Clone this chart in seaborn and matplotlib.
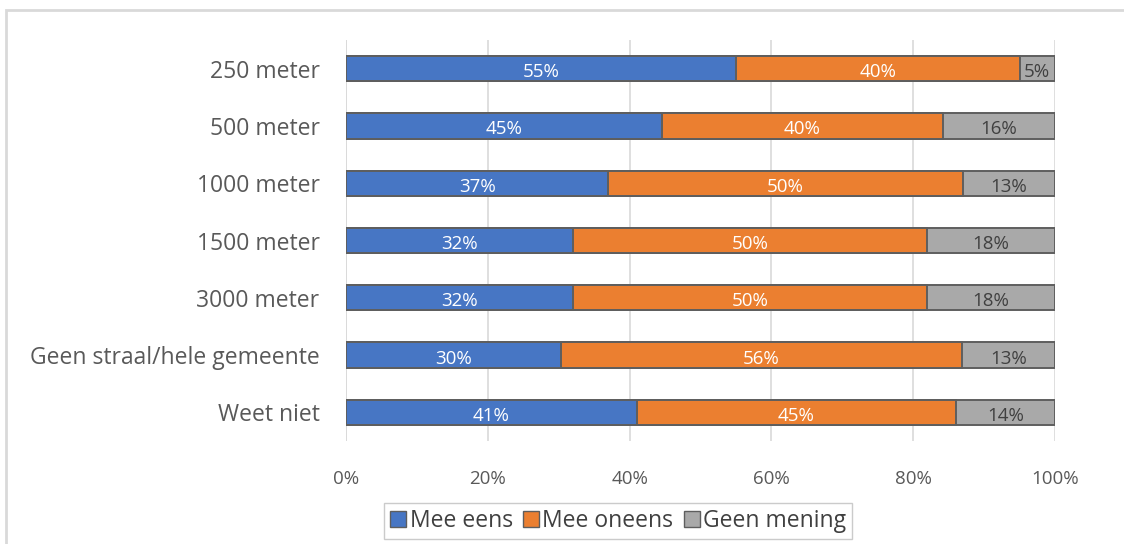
import matplotlib
matplotlib.use("Agg")
import matplotlib.pyplot as plt
import matplotlib.patches as mpatches
import numpy as np
import pandas as pd
import seaborn as sns

# data (percentages as printed in the bars)
categories = ["250 meter", "500 meter", "1000 meter", "1500 meter",
              "3000 meter", "Geen straal/hele gemeente", "Weet niet"]
mee_eens = [55, 45, 37, 32, 32, 30, 41]
mee_oneens = [40, 40, 50, 50, 50, 56, 45]
geen_mening = [5, 16, 13, 18, 18, 13, 14]
series_names = ["Mee eens", "Mee oneens", "Geen mening"]
x_ticks = [0, 20, 40, 60, 80, 100]

colors = ["#4776C4", "#EB7F30", "#A9A9A9"]
edge = "#5E5E5E"

sns.set_style("white")
plt.rcParams["font.family"] = ["Open Sans", "DejaVu Sans"]

df = pd.DataFrame({"cat": categories, "a": mee_eens, "b": mee_oneens, "c": geen_mening})
tot = df[["a", "b", "c"]].sum(axis=1)
# 100% stacked: normalise each row like Excel does
df["s1"] = df["a"] / tot * 100
df["s2"] = (df["a"] + df["b"]) / tot * 100
df["s3"] = 100.0

fig = plt.figure(figsize=(11.24, 5.44), dpi=100)
ax = fig.add_axes([0.3078, 0.1893, 0.6308, 0.7371])

# outer chart frame
fig.patches.append(mpatches.Rectangle((6 / 1124, -0.05), 1.1, 1 - 10 / 544 + 0.05,
                                      transform=fig.transFigure, fill=False,
                                      edgecolor="#D9D9D9", linewidth=2))

for col, c in zip(["s3", "s2", "s1"], colors[::-1]):
    sns.barplot(data=df, x=col, y="cat", color=c, orient="h", width=0.44,
                edgecolor=edge, linewidth=1.4, saturation=1, ax=ax)

# labels in the middle of each segment
for i, row in df.iterrows():
    starts = [0, row["s1"], row["s2"]]
    ends = [row["s1"], row["s2"], row["s3"]]
    vals = [row["a"], row["b"], row["c"]]
    for k in range(3):
        tc = "white" if k < 2 else "#404040"
        ax.text((starts[k] + ends[k]) / 2, i + 0.06, f"{vals[k]}%", ha="center", va="center",
                fontsize=13.5, color=tc)

ax.set_xlim(0, 100)
ax.set_ylim(len(categories) - 0.5, -0.5)
ax.set_xticks(x_ticks)
ax.set_xticklabels([f"{t}%" for t in x_ticks])
ax.set_xlabel("")
ax.set_ylabel("")
ax.grid(axis="x", color="#D9D9D9", linewidth=1.2)
ax.set_axisbelow(True)
for s in ax.spines.values():
    s.set_visible(False)
ax.axvline(0, color="#D9D9D9", linewidth=1.2, zorder=0)
ax.tick_params(axis="x", length=0, pad=21, labelsize=13.5, labelcolor="#595959")
ax.tick_params(axis="y", length=0, pad=19, labelsize=16.5, labelcolor="#595959")

handles = [mpatches.Patch(facecolor=c, edgecolor=edge, linewidth=1) for c in colors]
leg = fig.legend(handles, series_names, loc="center", bbox_to_anchor=(0.55, 0.042),
                 ncol=3, frameon=True, fontsize=16.5, handlelength=0.7, handleheight=0.7,
                 handletextpad=0.15, columnspacing=0.45, borderpad=0.25, fancybox=False)
leg.get_frame().set_edgecolor("#BFBFBF")
leg.get_frame().set_linewidth(1)
for t in leg.get_texts():
    t.set_color("#404040")

fig.savefig("out.png", dpi=100)
